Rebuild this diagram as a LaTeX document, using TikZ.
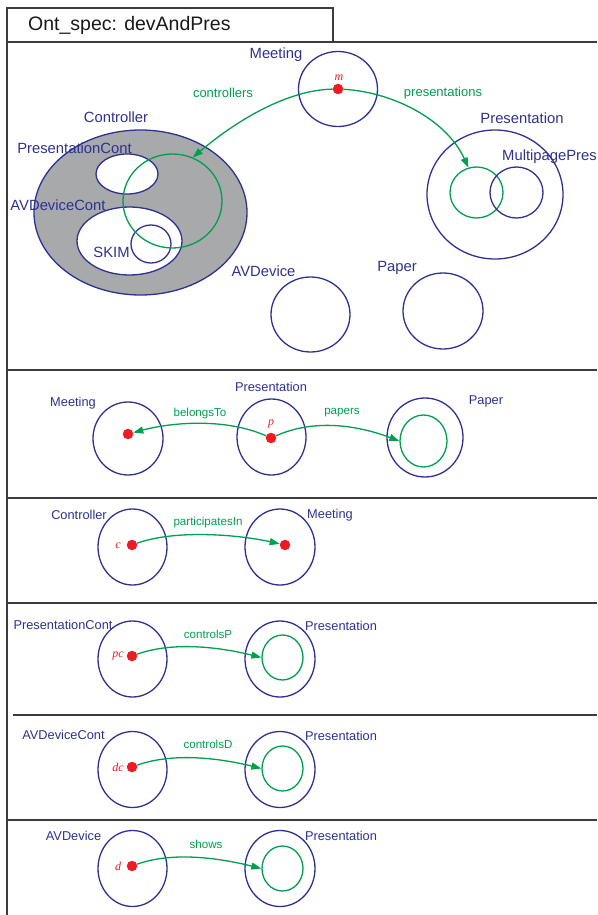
\documentclass[tikz,border=0pt]{standalone}
\usepackage{fontspec}
\setmainfont{Liberation Sans}
\newfontfamily\varfont{Liberation Serif}
\usetikzlibrary{shapes.geometric,arrows.meta}
\definecolor{setblue}{RGB}{46,49,146}
\definecolor{relgreen}{RGB}{0,158,79}
\definecolor{dotred}{RGB}{237,28,36}
\definecolor{ctrlgray}{RGB}{167,169,170}
\definecolor{framegray}{RGB}{60,60,60}
\tikzset{
  setc/.style={ellipse, draw=setblue, line width=1.3pt, inner sep=0pt},
  subc/.style={ellipse, draw=relgreen, line width=1.3pt, inner sep=0pt},
  sz/.style 2 args={minimum width=#1, minimum height=#2},
  dot/.style={circle, fill=dotred, inner sep=0pt, minimum size=10.5pt},
  lbl/.style={text=setblue, font=\fontsize{12.8}{14}\selectfont, inner sep=0pt},
  lblbig/.style={text=setblue, font=\fontsize{14.8}{16}\selectfont, inner sep=0pt},
  rlbl/.style={text=relgreen, font=\fontsize{11.6}{13}\selectfont, inner sep=0pt},
  rlblbig/.style={text=relgreen, font=\fontsize{13}{15}\selectfont, inner sep=0pt},
  var/.style={text=dotred, font=\varfont\itshape\fontsize{12}{13}\selectfont, inner sep=0pt},
  rel/.style={draw=relgreen, line width=1.3pt, -{Triangle[length=10pt,width=7pt]}},
  frame/.style={draw=framegray, line width=1.3pt},
  sep/.style={draw=framegray, line width=1.7pt},
}
\begin{document}
\begin{tikzpicture}[x=1pt,y=-1pt]
\useasboundingbox (0,0) rectangle (597,915);

% ---------- frame and tab ----------
\draw[frame] (7,915) -- (7,8) -- (333,8) -- (333,42);
\draw[frame] (7,42) -- (597,42);
\node[text=black!90, font=\fontsize{19.5}{22}\selectfont, anchor=west, inner sep=0pt] (title) at (28,25) {Ont\_spec: devAndPres};
\draw[sep] (7,370) -- (597,370);
\draw[sep] (7,498) -- (597,498);
\draw[sep] (7,603) -- (597,603);
\draw[sep] (13,715) -- (597,715);
\draw[sep] (7,820) -- (597,820);

% ---------- top section: the ontology ----------
\node[setc, fill=ctrlgray, sz={213pt}{165pt}] (ctrl) at (140.5,212.5) {};
\node[lblbig] (ctrlL) at (116,117) {Controller};
\node[setc, fill=white, sz={62pt}{40pt}] (pcont) at (127,174) {};
\node[setc, fill=white, sz={105pt}{68pt}] (avcont) at (129.5,241) {};
\node[setc, sz={40pt}{38pt}] (skim) at (151,244) {};
\node[subc, sz={99pt}{94pt}] (ctrlsub) at (172.5,201) {};
\node[lblbig] (pcontL) at (74.5,148) {PresentationCont};
\node[lblbig] (avcontL) at (58,205) {AVDeviceCont};
\node[lblbig] (skimL) at (111.5,252) {SKIM};

\node[setc, sz={79pt}{75pt}] (meet) at (338,89) {};
\node[lblbig] (meetL) at (276,55) {Meeting};
\node[dot] (m) at (338,89) {};
\node[var] (mL) at (339,78) {m};

\node[setc, sz={136pt}{129pt}] (pres) at (495,194.5) {};
\node[lblbig] (presL) at (522,118) {Presentation};
\node[subc, sz={53pt}{51pt}] (presub) at (476.5,192.5) {};
\node[setc, sz={53pt}{51pt}] (mpp) at (516.5,192.5) {};
\node[lblbig, anchor=west] (mppL) at (502,157) {MultipagePres};

\node[setc, sz={79pt}{75pt}] (avdev) at (310.5,314.5) {};
\node[lblbig] (avdevL) at (263.5,271) {AVDevice};
\node[setc, sz={80pt}{76pt}] (paper) at (443,311) {};
\node[lblbig] (paperL) at (397,268) {Paper};

\node[rlblbig] (ctrlsR) at (223,93) {controllers};
\node[rlblbig] (presR) at (443,93) {presentations};
\draw[rel] (m) .. controls +(-50,1) and +(45,-38) .. (ctrlsub.65);
\draw[rel] (m) .. controls +(55,3) and +(-22,-48) .. (presub.108);

% ---------- belongsTo / papers ----------
\node[setc, sz={70pt}{73pt}] (meet2) at (128,438.5) {};
\node[lbl] (meet2L) at (73,403) {Meeting};
\node[dot] (m2) at (128,434) {};
\node[setc, sz={69pt}{76pt}] (pres2) at (271.5,437) {};
\node[lbl] (pres2L) at (271,387) {Presentation};
\node[dot] (p2) at (271,438) {};
\node[var] (p2L) at (271,424) {p};
\node[setc, sz={76pt}{79pt}] (paper2) at (425,437.5) {};
\node[subc, sz={47pt}{52pt}] (paper2sub) at (423.5,441) {};
\node[lbl] (paper2L) at (486,401) {Paper};
\node[rlbl] (belR) at (200,413) {belongsTo};
\node[rlbl] (papR) at (342,413) {papers};
\draw[rel] (p2) .. controls +(-45,-20) and +(45,-12) .. (m2);
\draw[rel] (p2) .. controls +(45,-20) and +(-40,-15) .. (paper2sub.west);

% ---------- participatesIn ----------
\node[setc, sz={69pt}{76pt}] (ctrl3) at (132.5,547) {};
\node[lbl] (ctrl3L) at (79,515) {Controller};
\node[dot] (c3) at (132,545) {};
\node[var] (c3L) at (118,546) {c};
\node[setc, sz={70pt}{76pt}] (meet3) at (280,547) {};
\node[lbl] (meet3L) at (330,515) {Meeting};
\node[dot] (m3) at (285,545) {};
\node[rlbl] (partR) at (208,522) {participatesIn};
\draw[rel] (c3) .. controls +(45,-16) and +(-45,-10) .. (m3);

% ---------- controlsP ----------
\node[setc, sz={69pt}{76pt}] (pc4) at (132.5,659) {};
\node[lbl] (pc4L) at (63,625) {PresentationCont};
\node[dot] (pc4d) at (132,656) {};
\node[var] (pc4dL) at (118,656) {pc};
\node[setc, sz={70pt}{76pt}] (pres4) at (280,659) {};
\node[subc, sz={41pt}{45pt}] (pres4sub) at (282.5,657.5) {};
\node[lbl] (pres4L) at (341,626) {Presentation};
\node[rlbl] (cpR) at (208,634) {controlsP};
\draw[rel] (pc4d) .. controls +(42,-15) and +(-40,-10) .. (pres4sub.west);

% ---------- controlsD ----------
\node[setc, sz={69pt}{76pt}] (dc5) at (132.5,769.5) {};
\node[lbl] (dc5L) at (63.5,735) {AVDeviceCont};
\node[dot] (dc5d) at (132,767) {};
\node[var] (dc5dL) at (118,767) {dc};
\node[setc, sz={70pt}{76pt}] (pres5) at (280,769.5) {};
\node[subc, sz={41pt}{45pt}] (pres5sub) at (282.5,768.5) {};
\node[lbl] (pres5L) at (341,736) {Presentation};
\node[rlbl] (cdR) at (208,744) {controlsD};
\draw[rel] (dc5d) .. controls +(42,-15) and +(-40,-10) .. (pres5sub.west);

% ---------- shows ----------
\node[setc, sz={69pt}{76pt}] (d6) at (132.5,868.5) {};
\node[lbl] (d6L) at (73.5,836) {AVDevice};
\node[dot] (d6d) at (132,866) {};
\node[var] (d6dL) at (118,866) {d};
\node[setc, sz={70pt}{76pt}] (pres6) at (280,868.5) {};
\node[subc, sz={41pt}{45pt}] (pres6sub) at (282.5,868.5) {};
\node[lbl] (pres6L) at (341,836) {Presentation};
\node[rlbl] (shR) at (206,844) {shows};
\draw[rel] (d6d) .. controls +(42,-15) and +(-40,-10) .. (pres6sub.west);
\end{tikzpicture}
\end{document}
